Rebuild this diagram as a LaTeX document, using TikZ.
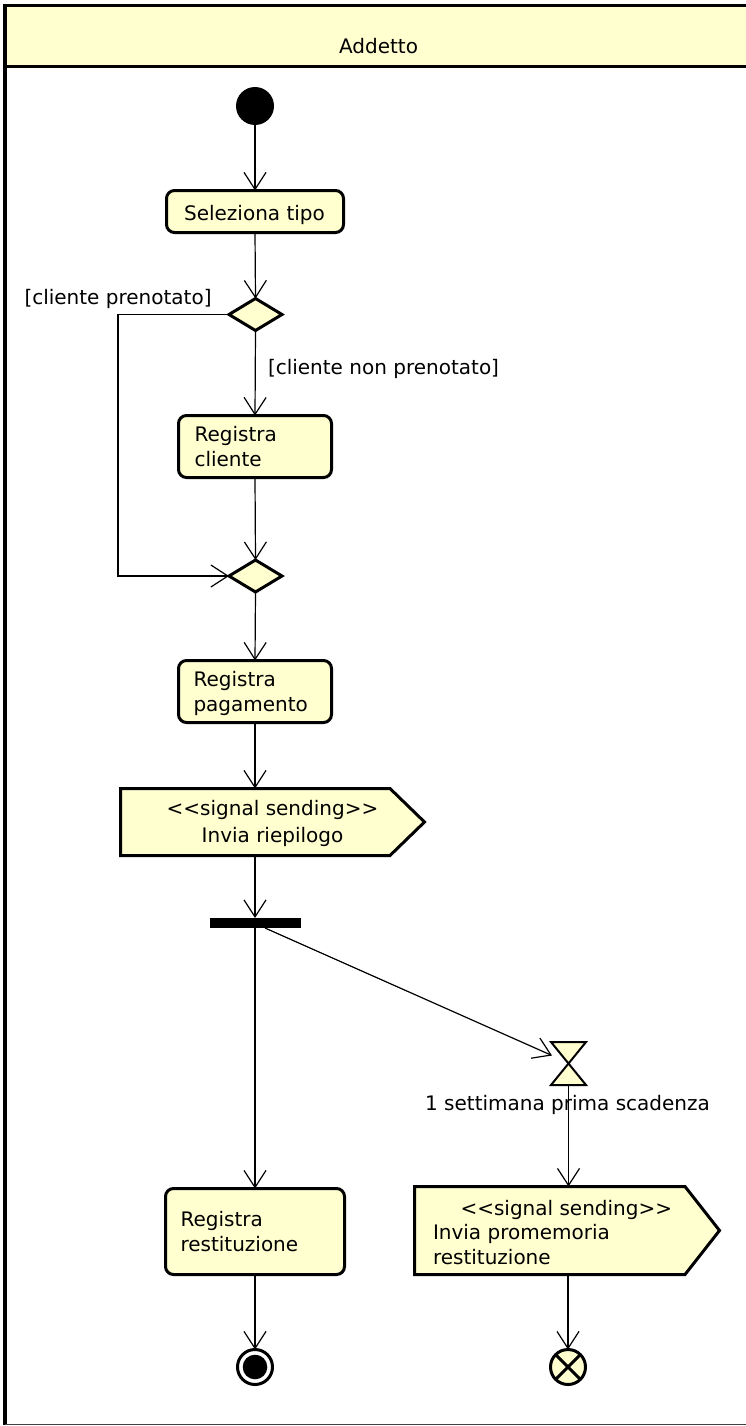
\documentclass[tikz,border=0pt]{standalone}
\usepackage{fontspec}
\setmainfont{DejaVu Sans}
\usetikzlibrary{arrows.meta,calc,shapes.geometric}
\definecolor{umlfill}{RGB}{255,255,208}
\newcommand{\topstrut}{\rule{0pt}{20pt}}
\begin{document}
\begin{tikzpicture}[x=1pt,y=-1pt,
  txt/.style={font=\fontsize{20}{25}\selectfont, inner sep=0pt, outer sep=0pt},
  act/.style={draw, line width=3pt, fill=umlfill, rounded corners=8pt, inner sep=0pt, outer sep=0pt},
  dec/.style={draw, diamond, line width=3pt, fill=umlfill, inner sep=0pt, outer sep=0pt, minimum width=53pt, minimum height=32pt},
  flow/.style={line width=1.2pt, -{Straight Barb[length=17pt,width=22pt]}},
  ghost/.style={inner sep=0pt, outer sep=0pt},
  sigline/.style={draw, line width=3pt, fill=umlfill, line join=miter}]
\useasboundingbox (0,0) rectangle (746,1426);
\clip (0,0) rectangle (746,1426);

% swimlane
\fill[umlfill] (5,5) rectangle (760,66.5);
\draw[line width=3pt] (760,5.5) -- (5,5.5);
\draw[line width=3.5pt] (5,4) -- (5,1424.5);
\draw[line width=3pt] (5,66.5) -- (760,66.5);
\draw[line width=1.5pt, black!75] (5,1424.5) -- (760,1424.5);
\node[txt, anchor=base] (lanename) at (378.5,53.3) {Addetto};

% nodes
\node[circle, fill=black, minimum size=38pt, inner sep=0pt, outer sep=0pt] (start) at (255,106) {};
\node[act, minimum width=177pt, minimum height=42pt] (sel) at (255,211.5) {};
\node[txt, anchor=base] (tsel) at (254.5,220.7) {Seleziona tipo};

\node[dec] (d1) at (255.5,314.5) {};
\node[txt, anchor=base west] (g1) at (24.5,304) {[cliente prenotato]};
\node[txt, anchor=base west] (g2) at (268,374) {[cliente non prenotato]};

\node[act, minimum width=153pt, minimum height=62pt] (rc) at (255,446.5) {};
\node[txt, anchor=north west, align=left] (trc) at (194.5,421.7) {\topstrut Registra\\cliente};

\node[dec] (d2) at (255.5,576) {};

\node[act, minimum width=153pt, minimum height=62pt] (rp) at (255,691.5) {};
\node[txt, anchor=north west, align=left] (trp) at (193.5,666.7) {\topstrut Registra\\pagamento};

\node[ghost, minimum width=269.5pt, minimum height=67pt] (sig1) at (255.25,822) {};
\filldraw[sigline] (sig1.north west) -- (sig1.north east) -- ($(sig1.east)+(34.5,0)$) -- (sig1.south east) -- (sig1.south west) -- cycle;
\node[txt, font=\fontsize{20}{26.5}\selectfont, anchor=north, align=center] (tsig1) at (272.5,795.7) {\topstrut <\kern0pt<signal sending>\kern0pt>\\Invia riepilogo};

\node[fill=black, minimum width=91pt, minimum height=10pt, inner sep=0pt, outer sep=0pt] (bar) at (255,923) {};

\node[ghost, minimum width=35pt, minimum height=43pt] (hg) at (568.5,1063.5) {};
\filldraw[draw, line width=2pt, fill=umlfill, line join=miter] (hg.north west) -- (hg.north east) -- (hg.south west) -- (hg.south east) -- cycle;
\node[txt, anchor=base] (thg) at (567.5,1110.7) {1 settimana prima scadenza};

\node[act, minimum width=179pt, minimum height=86pt] (rr) at (255,1231.5) {};
\node[txt, anchor=north west, align=left] (trr) at (180.5,1206.7) {\topstrut Registra\\restituzione};

\node[ghost, minimum width=270.5pt, minimum height=88pt] (sig2) at (549.75,1230.5) {};
\filldraw[sigline] (sig2.north west) -- (sig2.north east) -- ($(sig2.east)+(34.5,0)$) -- (sig2.south east) -- (sig2.south west) -- cycle;
\node[txt, anchor=base west] (tsig2a) at (460.5,1215) {<\kern0pt<signal sending>\kern0pt>};
\node[txt, font=\fontsize{20}{24.5}\selectfont, anchor=north west, align=left] (tsig2b) at (433,1219.5) {\topstrut Invia promemoria\\restituzione};

\node[circle, draw, line width=3pt, fill=white, minimum size=35pt, inner sep=0pt, outer sep=0pt] (final) at (255,1367) {};
\fill (final.center) circle[radius=12.3pt];

\node[circle, draw, line width=3pt, fill=umlfill, minimum size=35pt, inner sep=0pt, outer sep=0pt] (ff) at (568,1367) {};
\draw[line width=3pt] (ff.45) -- (ff.225) (ff.135) -- (ff.315);

% connectors
\coordinate (lp) at (118,314.5);
\draw[flow] (start) -- (sel.north);
\draw[flow] (sel.south) -- (d1.north);
\draw[flow] (d1.south) -- (rc.north);
\draw[flow] (d1.west) -- (lp) |- (d2.west);
\draw[flow] (rc.south) -- (d2.north);
\draw[flow] (d2.south) -- (rp.north);
\draw[flow] (rp.south) -- (rp.south |- sig1.north);
\draw[flow] (rp.south |- sig1.south) -- (bar.north);
\draw[flow] (bar.south) -- (rr.north);
\draw[flow] ($(bar.south)+(10,0)$) -- ($(hg.west)+(1,-8)$);
\draw[flow] (hg.south) -- (hg.south |- sig2.north);
\draw[flow] (rr.south) -- (final.north);
\draw[flow] (ff |- sig2.south) -- (ff.north);
\end{tikzpicture}
\end{document}
